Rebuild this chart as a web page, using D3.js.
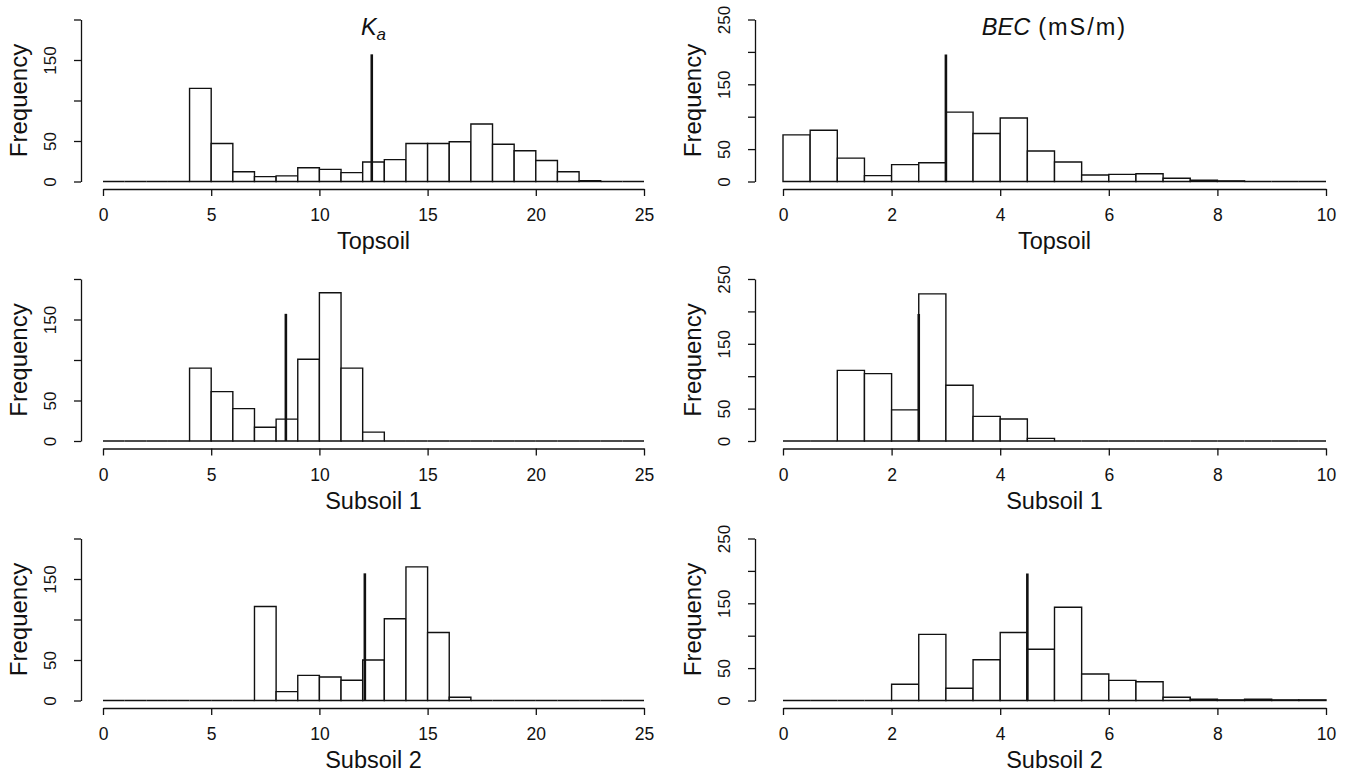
<!DOCTYPE html>
<html>
<head>
<meta charset="utf-8">
<script src="https://cdn.jsdelivr.net/npm/d3@7"></script>
<style>
  html, body { margin: 0; padding: 0; background: #fff; }
  svg { display: block; font-family: "Liberation Sans", Arial, Helvetica, sans-serif; }
</style>
</head>
<body>
<svg id="chart" width="1349" height="780"></svg>
<script>
// Soil layers, one row each
const layers = ["Topsoil", "Subsoil 1", "Subsoil 2"];

// Ka histograms: bins of width 1 over [0, 25)
const kaBinWidth = 1;
const kaTopsoil  = [0,0,0,0,115,47,12,6,7,17,15,11,24,27,47,47,49,71,46,38,26,12,1,0,0];
const kaSubsoil1 = [0,0,0,0,90,61,40,17,27,101,183,90,11,0,0,0,0,0,0,0,0,0,0,0,0];
const kaSubsoil2 = [0,0,0,0,0,0,0,116,11,31,29,25,50,101,165,84,4,0,0,0,0,0,0,0,0];

// BEC histograms (mS/m): bins of width 0.5 over [0, 10)
const becBinWidth = 0.5;
const becTopsoil  = [72,79,36,9,26,29,107,74,98,47,30,10,11,12,5,2,1,0,0,0];
const becSubsoil1 = [0,0,109,104,48,227,86,38,34,4,0,0,0,0,0,0,0,0,0,0];
const becSubsoil2 = [0,0,0,0,25,102,19,63,105,79,144,41,31,29,5,2,1,2,1,1];

// Marker lines: position per layer, common drawn height per variable
const kaMarkers  = [12.42, 8.45, 12.1];
const becMarkers = [3.0, 2.5, 4.5];
const kaMarkerHeight = 157;
const becMarkerHeight = 196;

// Axis ticks and labels
const kaXTicks  = [0, 5, 10, 15, 20, 25];
const becXTicks = [0, 2, 4, 6, 8, 10];
const kaYTicks  = [0, 50, 100, 150, 200];
const kaYLabels = [0, 50, 150];
const becYTicks  = [0, 50, 100, 150, 200, 250];
const becYLabels = [0, 50, 150, 250];

const svg = d3.select("#chart");
const ink = "#111";

const rowBase = [181.5, 441, 700.5];
const plotH = 162;

const columns = [
  { axisX: 81,  x0: 103, x1: 644, domain: [0, 25], ymax: 200, binW: kaBinWidth,
    series: [kaTopsoil, kaSubsoil1, kaSubsoil2], markers: kaMarkers, markerH: kaMarkerHeight,
    xTicks: kaXTicks, yTicks: kaYTicks, yLabels: kaYLabels, title: "ka" },
  { axisX: 755, x0: 783, x1: 1326, domain: [0, 10], ymax: 250, binW: becBinWidth,
    series: [becTopsoil, becSubsoil1, becSubsoil2], markers: becMarkers, markerH: becMarkerHeight,
    xTicks: becXTicks, yTicks: becYTicks, yLabels: becYLabels, title: "bec" }
];

columns.forEach(col => {
  const x = d3.scaleLinear().domain(col.domain).range([col.x0, col.x1]);

  layers.forEach((layer, r) => {
    const base = rowBase[r];
    const y = d3.scaleLinear().domain([0, col.ymax]).range([base, base - plotH]);
    const g = svg.append("g");

    // bars as outlined paths, so empty bins still leave a flat stroke on the baseline
    const bins = col.series[r].map((c, i) => ({ lo: i * col.binW, hi: (i + 1) * col.binW, n: c }));
    g.selectAll("path.bar").data(bins).enter().append("path")
      .attr("class", "bar")
      .attr("d", d => {
        const p = d3.path();
        p.moveTo(x(d.lo), y(0));
        p.lineTo(x(d.lo), y(d.n));
        p.lineTo(x(d.hi), y(d.n));
        p.lineTo(x(d.hi), y(0));
        p.closePath();
        return p.toString();
      })
      .attr("fill", "#fff")
      .attr("stroke", ink)
      .attr("stroke-width", 1.4);

    // marker line
    g.append("line")
      .attr("x1", x(col.markers[r])).attr("x2", x(col.markers[r]))
      .attr("y1", y(0)).attr("y2", y(col.markerH))
      .attr("stroke", ink).attr("stroke-width", 2.6);

    // x axis below the bars
    const xAxis = d3.axisBottom(x).tickValues(col.xTicks).tickSize(7).tickSizeOuter(0).tickFormat(d3.format("d"));
    const xa = g.append("g").attr("transform", `translate(0,${base + 7.5})`).call(xAxis);
    xa.select(".domain").attr("stroke", ink).attr("stroke-width", 1.3);
    xa.selectAll(".tick line").attr("stroke", ink).attr("stroke-width", 1.3);
    xa.selectAll(".tick text")
      .attr("y", 0).attr("dy", null)
      .attr("transform", "translate(0,32)")
      .attr("font-size", 17.5).attr("fill", ink)
      .attr("font-family", null);

    // y axis, labels rotated along the axis
    const yAxis = d3.axisLeft(y).tickValues(col.yTicks).tickSize(7).tickSizeOuter(0)
      .tickFormat(d => col.yLabels.includes(d) ? d : "");
    const ya = g.append("g").attr("transform", `translate(${col.axisX},0)`).call(yAxis);
    ya.select(".domain").attr("stroke", ink).attr("stroke-width", 1.3);
    ya.selectAll(".tick line").attr("stroke", ink).attr("stroke-width", 1.3);
    ya.selectAll(".tick text")
      .attr("x", null).attr("dy", null)
      .attr("transform", "translate(-25,0) rotate(-90)")
      .attr("text-anchor", "middle")
      .attr("font-size", 17).attr("fill", ink)
      .attr("font-family", null);

    // axis titles
    g.append("text")
      .attr("transform", `translate(${col.axisX - 54},${base - plotH / 2}) rotate(-90)`)
      .attr("text-anchor", "middle")
      .attr("font-size", 24).attr("fill", ink)
      .text("Frequency");

    g.append("text")
      .attr("x", (col.x0 + col.x1) / 2).attr("y", base + 67.5)
      .attr("text-anchor", "middle")
      .attr("font-size", 23.5).attr("fill", ink)
      .text(layer);

    // variable title on the top row
    if (r === 0) {
      const t = g.append("text")
        .attr("x", (col.x0 + col.x1) / 2).attr("y", 35)
        .attr("text-anchor", "middle")
        .attr("font-size", 23.5).attr("fill", ink);
      if (col.title === "ka") {
        t.append("tspan").attr("font-style", "italic").text("K");
        t.append("tspan").attr("font-style", "italic").attr("font-size", 17).attr("dy", 5).text("a");
      } else {
        t.append("tspan").attr("font-style", "italic").text("BEC");
        t.append("tspan").attr("dx", 8).attr("letter-spacing", 2).text("(mS/m)");
      }
    }
  });
});
</script>
</body>
</html>
